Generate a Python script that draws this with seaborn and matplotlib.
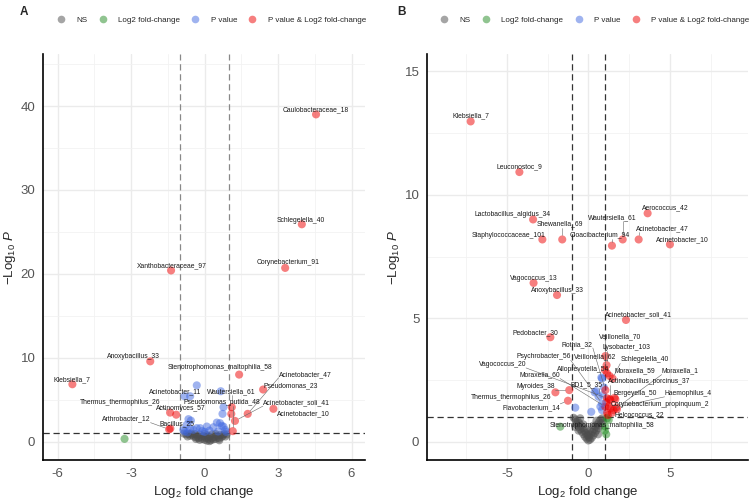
import matplotlib.pyplot as plt
import numpy as np
import pandas as pd
import seaborn as sns
from matplotlib.lines import Line2D

FC_CUT = 1.0
P_CUT = 1.0

GROUPS = ['NS', 'Log2 fold-change', 'P value', 'P value & Log2 fold-change']
GROUP_COLOURS = ['#4d4d4d', '#228b22', '#4169e1', '#ee0000']

# ---- panel A: unlabelled taxa
A_X = [-0.85, -0.75, -0.65, -0.6, -0.5, -0.45, -0.4, -0.35, -0.3, -0.25, -0.2, -0.15, -0.1,
       -0.05, 0.0, 0.05, 0.1, 0.15, 0.2, 0.25, 0.3, 0.35, 0.4, 0.45, 0.5, 0.55, 0.6, 0.65,
       0.7, 0.75, 0.8, 0.85, -0.55, -0.2, 0.1, 0.3, -0.7, 0.2, 0.45, -0.35, 0.0, 0.6, 0.9,
       -0.66, -0.56, -0.87, -0.82, -0.73, -0.6, -0.46, -0.32, -0.18, -0.1, 0.09, 0.2, 0.36,
       0.5, 0.63, 0.7, 0.77, 0.84, 0.88, -0.32, -0.59, 0.66, 0.77, 0.73, 0.0, 0.55, -0.7,
       1.09, -3.27]
A_Y = [0.95, 0.85, 0.9, 0.7, 0.8, 0.6, 0.9, 0.5, 0.7, 0.4, 0.85, 0.55, 0.3,
       0.65, 0.2, 0.45, 0.1, 0.35, 0.6, 0.15, 0.4, 0.25, 0.55, 0.3, 0.7, 0.45, 0.35, 0.8,
       0.55, 0.7, 0.9, 0.6, 0.95, 0.2, 0.75, 0.85, 0.6, 0.05, 0.9, 0.3, 0.9, 0.15, 0.85,
       2.67, 2.5, 1.39, 1.19, 2.0, 1.5, 1.39, 1.6, 1.6, 1.25, 1.79, 1.3, 1.71,
       2.26, 2.19, 1.87, 1.79, 1.39, 1.15, 6.7, 5.4, 6.0, 4.1, 3.3, 1.15, 1.2, 1.1,
       3.3, 0.32]

# ---- panel A: labelled taxa
A_NAMES = ['Caulobacteraceae_18', 'Schlegelella_40', 'Corynebacterium_91', 'Xanthobacteraceae_97',
           'Anoxybacillus_33', 'Klebsiella_7', 'Stenotrophomonas_maltophilia_58', 'Acinetobacter_47',
           'Pseudomonas_23', 'Acinetobacter_soli_41', 'Acinetobacter_10', 'Pseudomonas_putida_48',
           'Wautersiella_61', 'Acinetobacter_11', 'Thermus_thermophilus_26', 'Actinomyces_57',
           'Arthrobacter_12', 'Bacillus_25']
A_LX = [4.55, 3.97, 3.29, -1.37, -2.22, -5.40, 1.41, 1.76, 2.39, 1.24, 2.81, 1.15,
        1.11, -0.82, -1.41, -1.16, -1.45, -1.40]
A_LY = [39.0, 25.9, 20.7, 20.4, 9.56, 6.83, 7.98, 3.3, 6.2, 2.46, 3.9, 1.24,
        4.1, 5.4, 3.45, 3.2, 1.45, 1.55]
# repelled label positions
A_TX = [4.55, 3.94, 3.41, -1.33, -2.92, -5.41, 0.63, 4.10, 3.53, 3.75, 4.02, 0.72,
        1.08, -1.20, -3.45, -0.96, -3.20, -1.12]
A_TY = [39.6, 26.4, 21.3, 21.0, 10.1, 7.35, 8.77, 8.02, 6.67, 4.64, 3.33, 4.64,
        5.92, 5.88, 4.69, 3.98, 2.67, 2.07]

# ---- panel B: unlabelled taxa
B_X = [-0.9, -0.8, -0.75, -0.7, -0.65, -0.6, -0.55, -0.5, -0.45, -0.4, -0.35, -0.3, -0.25,
       -0.2, -0.15, -0.1, -0.05, 0.0, 0.05, 0.1, 0.15, 0.2, 0.25, 0.3, 0.35, 0.4, 0.45, 0.5,
       0.55, 0.6, 0.65, 0.7, 0.75, 0.8, 0.85, 0.9, -0.5, -0.3, 0.1, 0.3, 0.5, -0.1, 0.6,
       -0.6, 0.0, -0.8,
       0.84, 0.47, -0.8, 0.18, 0.74, 0.84, 0.39, 0.95, 0.9,
       1.15, 1.35, 1.66, 1.35, 1.76, 1.15, 1.25, 1.1,
       1.15, 1.25, 1.02, -1.72, 1.1]
B_Y = [0.97, 0.9, 0.8, 0.7, 0.85, 0.6, 0.75, 0.5, 0.65, 0.4, 0.55, 0.3, 0.45,
       0.2, 0.35, 0.12, 0.25, 0.05, 0.18, 0.08, 0.3, 0.15, 0.4, 0.25, 0.5, 0.35, 0.6, 0.45,
       0.7, 0.55, 0.8, 0.65, 0.9, 0.75, 0.95, 0.85, 0.95, 0.7, 0.45, 0.65, 0.85, 0.5, 0.3,
       0.45, 0.3, 0.6,
       2.56, 2.05, 1.38, 1.21, 1.42, 1.28, 2.0, 2.2, 1.9,
       2.77, 1.69, 1.72, 1.35, 1.32, 1.17, 1.45, 1.6,
       0.95, 0.88, 0.45, 0.61, 0.3]

# ---- panel B: labelled taxa
B_NAMES = ['Klebsiella_7', 'Leuconostoc_9', 'Lactobacillus_algidus_34', 'Staphylococcaceae_101',
           'Shewanella_69', 'Cloacibacterium_94', 'Wautersiella_61', 'Acinetobacter_47',
           'Aerococcus_42', 'Acinetobacter_10', 'Vagococcus_13', 'Anoxybacillus_33',
           'Pedobacter_30', 'Acinetobacter_soli_41', 'Myroides_38', 'Thermus_thermophilus_26',
           'Flavobacterium_14', 'Vagococcus_20', 'Moraxella_60', 'Psychrobacter_56',
           'Veillonella_62', 'Rothia_32', 'Veillonella_70', 'Lysobacter_103', 'Schlegelella_40',
           'Alloprevotella_54', 'Moraxella_59', 'Moraxella_1', 'Actinobacillus_porcinus_37',
           'BD1_5_35', 'Bergeyella_50', 'Haemophilus_4', 'Corynebacterium_propinquum_2',
           'Helcococcus_22', 'Stenotrophomonas_maltophilia_58']
B_LX = [-7.22, -4.23, -3.39, -2.82, -1.6, 1.45, 2.11, 3.09, 3.64, 5.01, -3.36, -1.92,
        -2.33, 2.31, -1.17, -2.02, -1.25, 1.15, 1.04, 0.84, 1.05, 1.05, 1.02, 1.12, 1.49,
        0.8, 1.31, 1.55, 1.31, 0.63, 1.61, 1.72, 1.45, 1.2, 1.04]
B_LY = [12.97, 10.92, 9.0, 8.19, 8.19, 7.94, 8.19, 8.19, 9.25, 7.99, 6.43, 5.94,
        4.23, 4.93, 2.09, 2.0, 1.66, 1.76, 1.42, 1.55, 3.47, 2.09, 2.9, 3.1, 2.56,
        2.6, 2.66, 1.28, 1.73, 1.82, 1.78, 1.39, 1.17, 1.08, 0.61]
B_TX = [-7.20, -4.23, -4.62, -4.91, -1.76, 0.72, 1.47, 4.52, 4.72, 5.77, -3.37, -1.92,
        -3.25, 3.07, -3.23, -4.72, -3.5, -5.28, -2.98, -2.75, 0.40, -0.67, 1.96, 2.37, 3.44,
        -0.31, 2.88, 5.64, 3.74, -0.09, 2.87, 6.13, 4.42, 3.13, 0.83]
B_TY = [13.19, 11.13, 9.19, 8.34, 8.81, 8.37, 9.07, 8.62, 9.47, 8.19, 6.62, 6.14,
        4.43, 5.16, 2.23, 1.80, 1.39, 3.13, 2.70, 3.44, 3.44, 3.94, 4.27, 3.82, 3.31,
        2.93, 2.86, 2.86, 2.42, 2.30, 1.96, 1.96, 1.51, 1.11, 0.66]


def build_frame(xs, ys):
    df = pd.DataFrame({'log2fc': xs, 'nlogp': ys})
    big_fc = df['log2fc'].abs() > FC_CUT
    sig = df['nlogp'] > P_CUT
    df['group'] = np.select([big_fc & sig, sig, big_fc], [GROUPS[3], GROUPS[2], GROUPS[1]],
                            default=GROUPS[0])
    return df


def label_points(fig, ax, names, lx, ly, tx, ty):
    texts = [ax.text(x, y, n, fontsize=4.9, ha='center', va='center', color='#1a1a1a', zorder=5)
             for n, x, y in zip(names, tx, ty)]
    fig.canvas.draw()
    renderer = fig.canvas.get_renderer()
    inv = ax.transData.inverted()
    for t, x, y in zip(texts, lx, ly):
        bb = t.get_window_extent(renderer)
        px, py = ax.transData.transform((x, y))
        nx, ny = np.clip(px, bb.x0, bb.x1), np.clip(py, bb.y0, bb.y1)
        d = np.hypot(px - nx, py - ny)
        if d < 7:
            continue
        ex, ey = px - (px - nx) / d * 4, py - (py - ny) / d * 4
        (x0, y0), (x1, y1) = inv.transform((nx, ny)), inv.transform((ex, ey))
        ax.plot([x0, x1], [y0, y1], color='#666666', lw=0.4, zorder=4)


def draw_panel(ax, xs, ys, lx, ly, xlim, ylim, xmaj, xmin, ymaj, ymin, vcol):
    df = build_frame(list(xs) + list(lx), list(ys) + list(ly))
    sns.scatterplot(data=df, x='log2fc', y='nlogp', hue='group', hue_order=GROUPS,
                    palette=dict(zip(GROUPS, GROUP_COLOURS)), s=34, alpha=0.5,
                    edgecolor='none', legend=False, ax=ax, zorder=3)
    for v in (-FC_CUT, FC_CUT):
        ax.axvline(v, color=vcol, ls=(0, (5, 3)), lw=0.9, zorder=2)
    ax.axhline(P_CUT, color='#333333', ls=(0, (5, 3)), lw=0.9, zorder=2)
    ax.set_xlim(*xlim)
    ax.set_ylim(*ylim)
    ax.set_xticks(xmaj)
    ax.set_xticks(xmin, minor=True)
    ax.set_yticks(ymaj)
    ax.set_yticks(ymin, minor=True)
    ax.grid(which='major', color='#ebebeb', lw=1.0)
    ax.grid(which='minor', color='#f2f2f2', lw=0.6)
    ax.set_axisbelow(True)
    for side in ('top', 'right'):
        ax.spines[side].set_visible(False)
    for side in ('left', 'bottom'):
        ax.spines[side].set_color('black')
        ax.spines[side].set_linewidth(1.2)
    ax.tick_params(which='major', length=3.5, width=1.0, color='black', labelcolor='#555555',
                   labelsize=9.5, pad=2)
    ax.tick_params(which='minor', length=0)
    ax.set_xlabel(r'$\mathrm{Log}_{2}$ fold change', fontsize=9.5, labelpad=3)
    ax.set_ylabel(r'$-\mathrm{Log}_{10}\ \mathit{P}$', fontsize=9.5, labelpad=2)
    handles = [Line2D([], [], marker='o', ls='', color=c, alpha=0.5, markersize=5.5,
                      markeredgewidth=0) for c in GROUP_COLOURS]
    ax.legend(handles, GROUPS, loc='center', bbox_to_anchor=(0.523, 1.084), ncol=4,
              frameon=False, fontsize=5.8, handlelength=1.0, handletextpad=1.4,
              columnspacing=1.4, borderaxespad=0)


sns.set_style('white')
plt.rcParams['font.family'] = ['Liberation Sans', 'DejaVu Sans']
plt.rcParams['mathtext.fontset'] = 'custom'
plt.rcParams['mathtext.rm'] = 'Liberation Sans'
plt.rcParams['mathtext.it'] = 'Liberation Sans:italic'
plt.rcParams['axes.unicode_minus'] = False

fig = plt.figure(figsize=(7.5, 4.99), dpi=100)
ax_a = fig.add_axes([43 / 750, 39 / 499, 322 / 750, 406 / 499])
ax_b = fig.add_axes([427 / 750, 39 / 499, 321 / 750, 406 / 499])

draw_panel(ax_a, A_X, A_Y, A_LX, A_LY, (-6.6, 6.55), (-2.2, 46.2),
           [-6, -3, 0, 3, 6], [-4.5, -1.5, 1.5, 4.5], [0, 10, 20, 30, 40],
           [5, 15, 25, 35, 45], '#888888')
draw_panel(ax_b, B_X, B_Y, B_LX, B_LY, (-9.9, 9.8), (-0.74, 15.7),
           [-5, 0, 5], [-7.5, -2.5, 2.5, 7.5], [0, 5, 10, 15],
           [2.5, 7.5, 12.5], '#333333')

label_points(fig, ax_a, A_NAMES, A_LX, A_LY, A_TX, A_TY)
label_points(fig, ax_b, B_NAMES, B_LX, B_LY, B_TX, B_TY)

fig.text(20 / 750, 1 - 12 / 499, 'A', fontsize=8.5, fontweight='bold', ha='left', va='center')
fig.text(397 / 750, 1 - 12 / 499, 'B', fontsize=8.5, fontweight='bold', ha='left', va='center')

fig.savefig('out.png', dpi=100)
